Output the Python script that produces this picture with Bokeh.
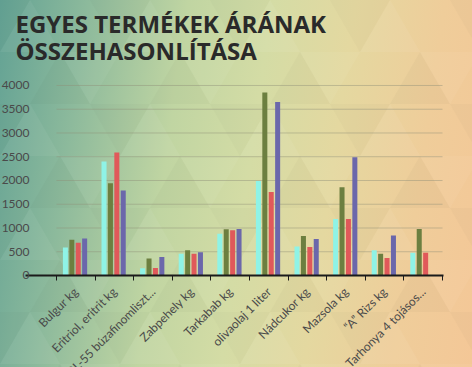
import numpy as np
from math import pi
from bokeh.plotting import figure
from bokeh.models import (Range1d, FixedTicker, LinearAxis, CustomJSTickFormatter,
                          Label, ColumnDataSource)
from bokeh.embed import file_html
from bokeh.resources import INLINE

# ---- data ----
categories = ["Bulgur kg", "Eritriol, eritrit kg", "BL-55 búzafinomliszt...",
              "Zabpehely kg", "Tarkabab kg", "olivaolaj 1 liter", "Nádcukor kg",
              "Mazsola kg", "\u201cA\u201d Rizs kg", "Tarhonya 4 tojásos..."]
series_1 = [590, 2400, 150, 460, 880, 1990, 610, 1190, 530, 480]
series_2 = [750, 1940, 360, 530, 975, 3850, 830, 1860, 460, 980]
series_3 = [690, 2590, 160, 460, 950, 1760, 600, 1190, 370, 480]
series_4 = [780, 1790, 390, 490, 980, 3650, 770, 2490, 840, 0]
y_ticks = [0, 500, 1000, 1500, 2000, 2500, 3000, 3500, 4000]
title_lines = ["EGYES TERMÉKEK ÁRÁNAK", "ÖSSZEHASONLÍTÁSA"]

colors = ["#8ff3e6", "#6c7f40", "#e0595a", "#6b67ab"]

W, H = 472, 367
n = len(categories)
p = figure(width=W, height=H, output_backend="svg", toolbar_location=None,
           x_range=Range1d(-1.4508, 10.777), y_range=Range1d(-1937, 5789),
           x_axis_type=None, y_axis_type=None, min_border=0,
           min_border_left=0, min_border_right=0, min_border_bottom=0, min_border_top=0)
p.background_fill_alpha = 0
p.border_fill_alpha = 0
p.outline_line_color = None

# faint triangle lattice + gradient as page background
tri = ("<svg xmlns='http://www.w3.org/2000/svg' width='120' height='104'>"
       "<polygon points='0,52 30,0 60,52' fill='rgba(255,255,255,0.05)'/>"
       "<polygon points='90,0 150,0 120,52' fill='rgba(0,0,0,0.02)'/>"
       "<polygon points='-30,0 30,0 0,52' fill='rgba(0,0,0,0.02)'/>"
       "<polygon points='60,52 120,52 90,104' fill='rgba(255,255,255,0.045)'/>"
       "<polygon points='30,104 60,52 90,104' fill='rgba(0,0,0,0.025)'/>"
       "</svg>")
css = ("html{min-height:100%;background-color:#cfd9a2;"
       "background-image:url(\"data:image/svg+xml;utf8," + tri + "\"),"
       "linear-gradient(98deg,#63a294 0%,#8dba9c 17%,#c0d5a2 36%,#d4dca5 52%,"
       "#e4d8a0 68%,#efcd9a 85%,#f4c797 100%);"
       "background-size:120px 104px,100% 100%;background-repeat:repeat,no-repeat;}"
       "body{background:transparent;}")
try:
    from bokeh.models import GlobalInlineStyleSheet
    p.stylesheets = [GlobalInlineStyleSheet(css=css)]
except Exception:
    p.styles = {"background": "linear-gradient(98deg,#63a294 0%,#c0d5a2 36%,#d4dca5 52%,#f4c797 100%)"}

# horizontal grid lines across the category area
p.segment(x0=0, x1=n, y0=y_ticks, y1=y_ticks, line_color="#8e8e78", line_alpha=0.45, line_width=1)

# bars
centers = np.arange(n) + 0.5
step = 0.166
width = 0.13
for k, (vals, col) in enumerate(zip([series_1, series_2, series_3, series_4], colors)):
    src = ColumnDataSource(dict(x=centers + (k - 1.5) * step - 0.02, top=vals))
    p.vbar(x="x", top="top", bottom=0, width=width, source=src, fill_color=col, line_color=None)

# y axis (labels only, left-aligned)
yaxis = LinearAxis(ticker=FixedTicker(ticks=y_ticks, minor_ticks=[]), fixed_location=-0.648,
                   bounds=(0, 4000))
yaxis.axis_line_color = None
yaxis.major_tick_line_color = None
yaxis.major_tick_out = 0
yaxis.major_tick_in = 0
yaxis.minor_tick_line_color = None
yaxis.major_label_standoff = 2
yaxis.major_label_text_font = "Lato"
yaxis.major_label_text_font_size = "12px"
yaxis.major_label_text_color = "#4a4a4a"
yaxis.major_label_text_baseline = "bottom"
yaxis.major_label_text_align = "left"
p.add_layout(yaxis, "left")

# x axis drawn at y = 0
xaxis = LinearAxis(ticker=FixedTicker(ticks=list(centers), minor_ticks=list(range(n + 1))),
                   fixed_location=0, bounds=(-0.8, 10.026))
xaxis.formatter = CustomJSTickFormatter(args=dict(labels=categories),
                                        code="const i = Math.round(tick - 0.5); return labels[i] ?? '';")
xaxis.axis_line_color = "#1a1a1a"
xaxis.axis_line_width = 2
xaxis.major_tick_line_color = None
xaxis.minor_tick_line_color = "#1a1a1a"
xaxis.minor_tick_out = 5
xaxis.minor_tick_in = 0
xaxis.major_label_orientation = pi / 4
xaxis.major_label_standoff = 8
xaxis.major_label_text_font = "Lato"
xaxis.major_label_text_font_size = "12px"
xaxis.major_label_text_color = "#4a4a4a"
p.add_layout(xaxis, "below")

# two-line title
for txt, yb in zip(title_lines, [H - 23, H - 50]):
    p.add_layout(Label(x=15, y=yb, x_units="screen", y_units="screen", text=txt,
                       text_font="Open Sans", text_font_style="bold", text_font_size="24px",
                       text_color="#2a2a2a", text_baseline="alphabetic", text_align="left"))

open("out.html", "w").write(file_html(p, INLINE))
